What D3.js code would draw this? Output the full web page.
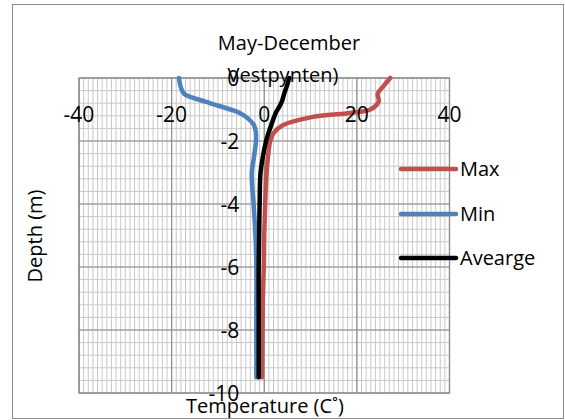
<!DOCTYPE html>
<html>
<head>
<meta charset="utf-8">
<script src="https://cdn.jsdelivr.net/npm/d3@7"></script>
<style>
  body { margin: 0; background: #fff; }
  text { font-family: "Open Sans", "Liberation Sans", sans-serif; fill: #000; }
</style>
</head>
<body>
<script>
// depth (m) shared by the three profiles
var depths = [0, -0.25, -0.5, -0.75, -1, -1.1, -1.25, -1.5, -1.75, -2, -2.5, -3, -4, -5, -6, -7, -8, -9, -9.5];
var maxTemps = [27.2, 25.8, 24.5, 24.7, 22.9, 19, 10, 4, 2.0, 1.3, 0.8, 0.5, 0.2, 0.0, -0.1, -0.3, -0.4, -0.5, -0.5];
var minTemps = [-18.4, -18.1, -17.3, -12.7, -7.3, -5.4, -3.8, -2.2, -1.8, -1.8, -2.2, -2.7, -2.3, -1.9, -1.7, -1.7, -1.7, -1.7, -1.7];
var avgTemps = [5.4, 4.9, 4.3, 3.8, 2.9, 2.5, 2.1, 1.5, 0.9, 0.4, -0.3, -0.8, -1.0, -1.1, -1.2, -1.2, -1.2, -1.2, -1.2];

var seriesNames = ["Max", "Min", "Avearge"];
var seriesColors = ["#c0504d", "#4f81bd", "#000000"];
var xTicks = [-40, -20, 0, 20, 40];
var yTicks = [0, -2, -4, -6, -8, -10];

var width = 565, height = 420;
var plot = {left: 79, right: 449.5, top: 78, bottom: 393};

var svg = d3.select("body").append("svg")
    .attr("width", width)
    .attr("height", height);

// outer chart border
svg.append("rect")
    .attr("x", 12.5).attr("y", 4.5)
    .attr("width", 551).attr("height", 414)
    .attr("fill", "none")
    .attr("stroke", "#8c8c8c");

var x = d3.scaleLinear().domain([-40, 40]).range([plot.left, plot.right]);
var y = d3.scaleLinear().domain([0, -10]).range([plot.top, plot.bottom]);

var grid = svg.append("g");

// minor grid
grid.selectAll(".vminor")
    .data(d3.range(-40, 41, 1))
    .enter().append("line")
    .attr("x1", d => x(d)).attr("x2", d => x(d))
    .attr("y1", plot.top).attr("y2", plot.bottom)
    .attr("stroke", "#c8c8c8").attr("stroke-width", 1);

grid.selectAll(".hminor")
    .data(d3.range(0, 26).map(i => -i * 0.4))
    .enter().append("line")
    .attr("x1", plot.left).attr("x2", plot.right)
    .attr("y1", d => y(d)).attr("y2", d => y(d))
    .attr("stroke", "#c8c8c8").attr("stroke-width", 1);

// major grid
grid.selectAll(".vmajor")
    .data(xTicks)
    .enter().append("line")
    .attr("x1", d => x(d)).attr("x2", d => x(d))
    .attr("y1", plot.top).attr("y2", plot.bottom)
    .attr("stroke", "#8c8c8c").attr("stroke-width", 1.2);

grid.selectAll(".hmajor")
    .data(yTicks)
    .enter().append("line")
    .attr("x1", plot.left).attr("x2", plot.right)
    .attr("y1", d => y(d)).attr("y2", d => y(d))
    .attr("stroke", "#8c8c8c").attr("stroke-width", 1.2);

grid.append("rect")
    .attr("x", plot.left).attr("y", plot.top)
    .attr("width", plot.right - plot.left).attr("height", plot.bottom - plot.top)
    .attr("fill", "none").attr("stroke", "#8c8c8c").attr("stroke-width", 1.2);

// profiles
var line = d3.line()
    .x(d => x(d[1]))
    .y(d => y(d[0]))
    .curve(d3.curveCatmullRom.alpha(0.5));

[maxTemps, minTemps, avgTemps].forEach(function(temps, i) {
    svg.append("path")
        .datum(depths.map((dp, j) => [dp, temps[j]]))
        .attr("d", line)
        .attr("fill", "none")
        .attr("stroke", seriesColors[i])
        .attr("stroke-width", 4.5)
        .attr("stroke-linecap", "round")
        .attr("stroke-linejoin", "round");
});

// tick labels
svg.selectAll(".xlabel")
    .data(xTicks)
    .enter().append("text")
    .attr("x", d => x(d))
    .attr("y", 122)
    .attr("text-anchor", "middle")
    .style("font-size", "21px")
    .text(d => d);

svg.selectAll(".ylabel")
    .data(yTicks)
    .enter().append("text")
    .attr("x", x(0) - 25)
    .attr("y", d => y(d) + 8)
    .attr("text-anchor", "end")
    .style("font-size", "21px")
    .text(d => d);

// titles
svg.append("text")
    .attr("x", 289).attr("y", 50)
    .attr("text-anchor", "middle")
    .style("font-size", "20px")
    .text("May-December");

svg.append("text")
    .attr("x", 283).attr("y", 82)
    .attr("text-anchor", "middle")
    .style("font-size", "20px")
    .text("Vestpynten)");

svg.append("text")
    .attr("x", 265).attr("y", 413)
    .attr("text-anchor", "middle")
    .style("font-size", "20px")
    .text("Temperature (C˚)");

svg.append("text")
    .attr("transform", "translate(42,236) rotate(-90)")
    .attr("text-anchor", "middle")
    .style("font-size", "20px")
    .text("Depth (m)");

// legend
var legendY = [169, 214, 258];
var legend = svg.append("g");
seriesNames.forEach(function(name, i) {
    legend.append("line")
        .attr("x1", 401).attr("x2", 456)
        .attr("y1", legendY[i]).attr("y2", legendY[i])
        .attr("stroke", seriesColors[i])
        .attr("stroke-width", 4.5)
        .attr("stroke-linecap", "round");
    legend.append("text")
        .attr("x", 460).attr("y", legendY[i] + 7)
        .style("font-size", "20px")
        .text(name);
});
</script>
</body>
</html>
